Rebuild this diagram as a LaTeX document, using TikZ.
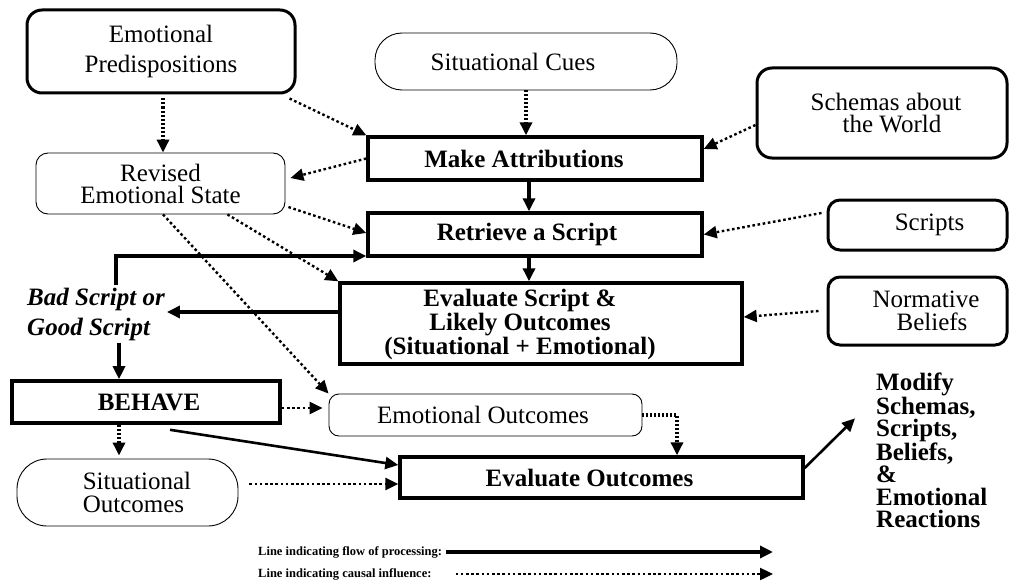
\documentclass[tikz,border=0pt]{standalone}
\usepackage{fontspec}
\setmainfont{Liberation Serif}
\usetikzlibrary{arrows.meta}
\begin{document}
\begin{tikzpicture}[x=1pt,y=-1pt,
  every node/.style={inner sep=0pt, font=\fontsize{25}{30}\selectfont},
  rbox/.style={draw, rounded corners=15pt, line width=3pt},
  tbox/.style={draw, rounded corners=12pt, line width=0.9pt},
  pbox/.style={draw, line width=3.4pt, font=\bfseries\fontsize{25}{21}\selectfont},
  tip/.style={-{Triangle[length=13pt,width=12pt]}},
  flow/.style={tip, line width=4pt},
  flowthin/.style={tip, line width=2.6pt},
  dotl/.style={tip, line width=2.4pt, dash pattern=on 2.6pt off 2.6pt},
  dotv/.style={tip, line width=4.2pt, dash pattern=on 2pt off 2pt},
  legend/.style={anchor=west, font=\bfseries\fontsize{12.5}{15}\selectfont}
]
\useasboundingbox[fill=white] (0,0) rectangle (1010,586);

% nodes
\node[rbox, minimum width=268pt, minimum height=83pt, align=center] (ep) at (161,51.5) {Emotional\\Predispositions};
\node[draw, line width=0.9pt, rounded corners=27pt, minimum width=302pt, minimum height=57pt] (sc) at (526,61.5) {Situational Cues\hspace*{26pt}};
\node[pbox, minimum width=334pt, minimum height=43pt] (ma) at (535,158.5) {Make Attributions\hspace*{22pt}};
\node[rbox, minimum width=250pt, minimum height=90pt, align=center, font=\fontsize{25}{22}\selectfont] (sw) at (882,113) {\hspace*{8pt}Schemas about\\\hspace*{20pt}the World};
\node[tbox, minimum width=249pt, minimum height=61pt, align=center, font=\fontsize{25}{22}\selectfont] (rs) at (160.5,183.5) {Revised\\Emotional State};
\node[pbox, minimum width=334pt, minimum height=43pt] (rt) at (535,234.5) {Retrieve a Script\hspace*{16pt}};
\node[rbox, rounded corners=12pt, minimum width=179pt, minimum height=50pt] (scr) at (917.5,225) {\hspace*{24pt}Scripts};
\node[pbox, minimum width=402pt, minimum height=81pt,
  label={[xshift=-21pt, yshift=-1pt, align=center, font=\bfseries\fontsize{25}{21}\selectfont]center:Evaluate Script \&\\Likely Outcomes\\(Situational + Emotional)}] (ev) at (541,323.5) {};
\node[rbox, rounded corners=12pt, minimum width=179pt, minimum height=68pt, align=center, font=\fontsize{25}{23}\selectfont] (nb) at (917.5,311) {\hspace*{17pt}Normative\\\hspace*{29pt}Beliefs};
\node[anchor=west, align=left, inner sep=2pt, font=\bfseries\itshape\fontsize{25}{30}\selectfont] (bg) at (25,314) {Bad Script or\\Good Script};
\node[draw, line width=3.6pt, minimum width=268pt, minimum height=42pt, font=\bfseries\fontsize{25}{30}\selectfont] (bh) at (146,402) {\hspace*{6pt}BEHAVE};
\node[tbox, rounded corners=10pt, minimum width=313pt, minimum height=42pt] (eo) at (485.5,415) {Emotional Outcomes\hspace*{5pt}};
\node[draw, line width=0.9pt, rounded corners=30pt, minimum width=221pt, minimum height=67pt, align=center, font=\fontsize{25}{23}\selectfont] (so) at (127.5,492.5) {\hspace*{19pt}Situational\\\hspace*{12pt}Outcomes};
\node[pbox, minimum width=403pt, minimum height=41pt] (evo) at (601.5,477.5) {Evaluate Outcomes\hspace*{24pt}};
\node[anchor=north west, align=left, font=\bfseries\fontsize{25}{22.2}\selectfont] (mod) at (876,373) {Modify\\Schemas,\\Scripts,\\Beliefs,\\\&\\Emotional\\Reactions};

% legend
\node[legend] (lg1) at (258,552) {Line indicating flow of processing:};
\node[legend] (lg2) at (258,574) {Line indicating causal influence:};
\coordinate (l1e) at (773,552);
\coordinate (l2e) at (773,574);
\draw[flow, line width=3.5pt] ([xshift=4pt]lg1.east) -- (l1e);
\draw[dotl] ([xshift=24pt]lg2.east) -- (l2e);

% processing flow
\draw[flow] ([xshift=-6pt]ma.south) -- ([xshift=-6pt]rt.north);
\draw[flow] ([xshift=-6pt]rt.south) -- ([xshift=-6pt]rt.south |- ev.north);
\draw[flow] ([yshift=11.5pt]ev.west) -- ([yshift=11.5pt]ev.west -| bg.east);
\coordinate (fb) at (116,256);
\draw[flow] (fb |- bg.north) -- (fb) -- (fb -| rt.west);
\draw[flow] ([xshift=-27pt]bh.north |- bg.south) -- ([xshift=-27pt]bh.north);
\draw[flowthin] ([xshift=24pt,yshift=-5pt]bh.south) -- ([yshift=12.5pt]evo.west);
\draw[flowthin] ([yshift=9.5pt]evo.east) -- ([xshift=-21pt,yshift=32pt]mod.west);

% causal influence
\draw[dotv, shorten <=4pt] ([xshift=2pt]ep.south) -- ([xshift=2pt]ep.south |- rs.north);
\draw[dotl] ([xshift=-7pt,yshift=-4pt]ep.south east) -- (ma.north west);
\draw[dotv] (sc.south) -- (sc.south |- ma.north);
\draw[dotl] (ma.west) -- ([xshift=5pt,yshift=5.5pt]rs.east);
\draw[dotl] ([yshift=-12pt]sw.west) -- ([yshift=9.5pt]ma.east);
\draw[dotl] ([xshift=-5pt,yshift=12pt]scr.west) -- (rt.east);
\draw[dotl] ([xshift=-8pt]nb.west) -- ([yshift=6.5pt]ev.east);
\draw[dotl] ([xshift=3pt,yshift=-23.5pt]rs.east) -- ([yshift=1.5pt]rt.west);
\draw[dotl] ([xshift=-58pt]rs.south east) -- (ev.north west);
\draw[dotl] ([xshift=2.5pt]rs.south) -- (eo.north west);
\draw[dotl, shorten >=6pt] ([yshift=-6pt]bh.east) -- ([yshift=-6pt]bh.east -| eo.west);
\draw[dotv, shorten >=3pt] ([xshift=-27pt]bh.south) -- ([xshift=-27pt]bh.south |- so.north);
\draw[dotl] ([xshift=11pt,yshift=8.5pt]so.east) -- ([yshift=-6.5pt]evo.west);
\draw[dotv, line width=3.5pt] (eo.east) -| ([xshift=75.5pt]evo.north);
\end{tikzpicture}
\end{document}
